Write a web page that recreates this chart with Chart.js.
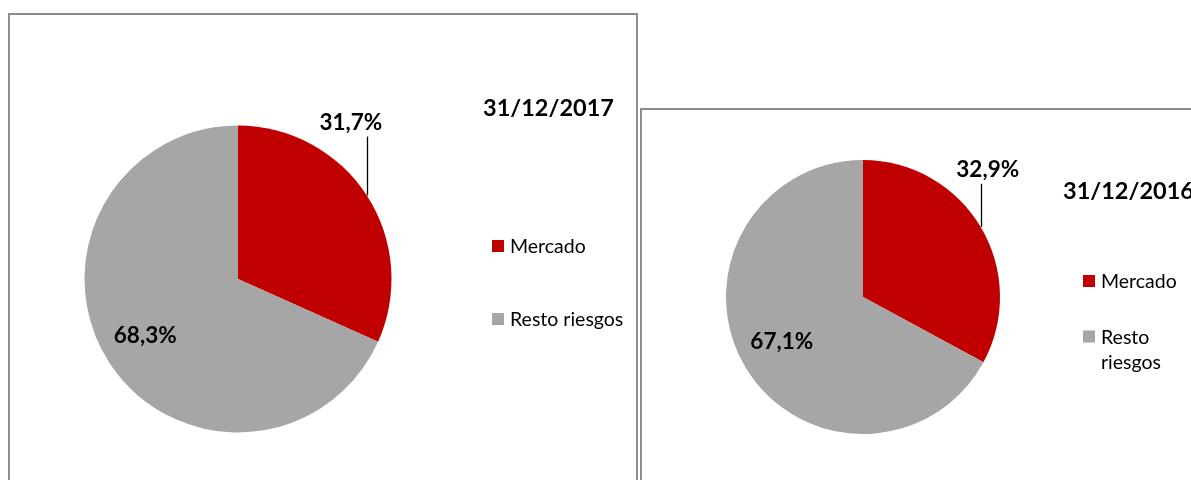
<!DOCTYPE html>
<html><head><meta charset="utf-8">
<script src="https://cdn.jsdelivr.net/npm/chart.js@4"></script>
<style>
html,body{margin:0;padding:0;width:1191px;height:480px;overflow:hidden;background:#fff;}
.panel{position:absolute;box-sizing:border-box;border:2px solid #8c8c8c;background:#fff;}
canvas{position:absolute;left:0;top:0;}
</style></head><body>
<div class="panel" style="left:8px;top:13px;width:630px;height:520px"></div>
<div class="panel" style="left:640px;top:108px;width:600px;height:420px"></div>
<canvas id="c1" width="1191" height="480"></canvas>
<canvas id="c2" width="1191" height="480"></canvas>
<script>
const categories = ['Mercado', 'Resto riesgos'];
const title2017 = '31/12/2017';
const title2016 = '31/12/2016';
const values2017 = [31.7, 68.3];
const values2016 = [32.9, 67.1];
const sliceColors = ['#C00000', '#A6A6A6'];

const fmt = v => v.toFixed(1).replace('.', ',') + '%';

const excelPie = {
  id: 'excelPie',
  afterDatasetsDraw(chart, args, o) {
    const ctx = chart.ctx;
    const meta = chart.getDatasetMeta(0);
    const ds = chart.data.datasets[0];
    ctx.save();
    ctx.fillStyle = '#000';
    ctx.textBaseline = 'alphabetic';
    meta.data.forEach((arc, i) => {
      const p = arc.getProps(['x', 'y', 'startAngle', 'endAngle', 'outerRadius'], true);
      const mid = (p.startAngle + p.endAngle) / 2;
      ctx.font = 'bold 22.5px Lato';
      ctx.textAlign = 'center';
      if (i === 0) {
        const ex = p.x + p.outerRadius * Math.cos(mid);
        const ey = p.y + p.outerRadius * Math.sin(mid);
        const top = ey - o.lineLen;
        const lx = Math.round(ex) + 0.5;
        ctx.strokeStyle = '#000';
        ctx.lineWidth = 1.3;
        ctx.beginPath(); ctx.moveTo(lx, ey); ctx.lineTo(lx, top); ctx.stroke();
        ctx.fillText(fmt(ds.data[i]), ex + o.dx, top - 7);
      } else {
        const r = p.outerRadius * o.inner;
        ctx.fillText(fmt(ds.data[i]), p.x + r * Math.cos(mid), p.y + r * Math.sin(mid) + 4);
      }
    });
    // title
    ctx.textAlign = 'left';
    ctx.font = 'bold 23.5px Lato';
    ctx.fillText(o.title, o.titleX, o.titleY);
    // legend
    ctx.font = '19.5px Lato';
    chart.data.labels.forEach((lab, i) => {
      const cy = o.legendY[i];
      ctx.fillStyle = ds.backgroundColor[i];
      ctx.fillRect(o.legendX, cy - 6, 12, 12);
      ctx.fillStyle = '#000';
      const lines = [];
      if (o.maxW && ctx.measureText(lab).width > o.maxW) {
        let cur = '';
        lab.split(' ').forEach(w => {
          const t = cur ? cur + ' ' + w : w;
          if (cur && ctx.measureText(t).width > o.maxW) { lines.push(cur); cur = w; } else cur = t;
        });
        lines.push(cur);
      } else lines.push(lab);
      lines.forEach((ln, k) => ctx.fillText(ln, o.legendX + 18, cy + 7 + k * 25));
    });
    ctx.restore();
  }
};

function makePie(id, values, padding, opts) {
  return new Chart(document.getElementById(id), {
    type: 'pie',
    data: {
      labels: categories,
      datasets: [{ data: values, backgroundColor: sliceColors, borderWidth: 0 }]
    },
    options: {
      responsive: false,
      animation: false,
      events: [],
      layout: { padding: padding },
      plugins: { legend: { display: false }, tooltip: { enabled: false }, excelPie: opts }
    },
    plugins: [excelPie]
  });
}

makePie('c1', values2017, { left: 84.5, right: 799.5, top: 125.5, bottom: 47.5 },
  { title: title2017, titleX: 483, titleY: 116, lineLen: 59, dx: -16, inner: 0.72,
    legendX: 492, legendY: [246, 319], maxW: 0 });
makePie('c2', values2016, { left: 726, right: 191, top: 160, bottom: 46 },
  { title: title2016, titleX: 1063, titleY: 199, lineLen: 43, dx: 7, inner: 0.69,
    legendX: 1083, legendY: [281, 336.5], maxW: 88 });
</script>
</body></html>
